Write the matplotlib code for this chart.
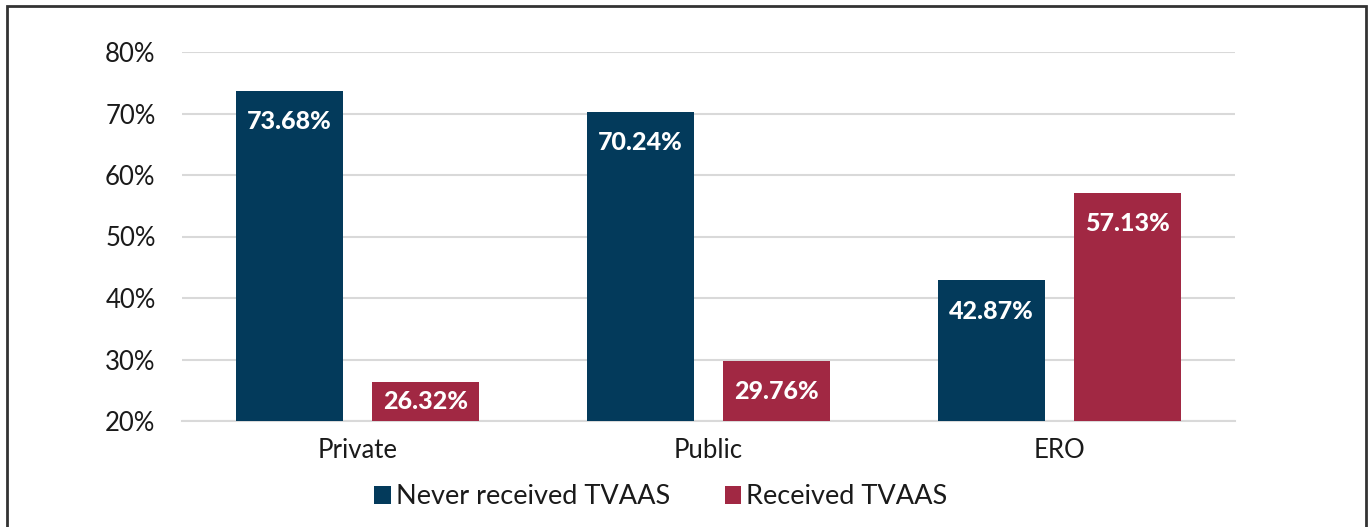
import matplotlib
matplotlib.use("Agg")
import matplotlib.pyplot as plt
import numpy as np
from matplotlib.patches import Rectangle

categories = ["Private", "Public", "ERO"]
never = [73.68, 70.24, 42.87]
received = [26.32, 29.76, 57.13]
series_names = ["Never received TVAAS", "Received TVAAS"]
yticks = [20, 30, 40, 50, 60, 70, 80]

navy = "#033A5B"
maroon = "#A12843"

plt.rcParams['font.family'] = ['Lato', 'DejaVu Sans']

fig = plt.figure(figsize=(13.7, 5.27), dpi=100)
ax = fig.add_axes([182/1370, 1-421/527, (1235-182)/1370, (421-52)/527])

x = np.arange(len(categories))
w = 0.305
off = 0.194
base = 20
b1 = ax.bar(x - off, [v - base for v in never], w, bottom=base, color=navy, label=series_names[0], zorder=3)
b2 = ax.bar(x + off, [v - base for v in received], w, bottom=base, color=maroon, label=series_names[1], zorder=3)

for bars, vals in ((b1, never), (b2, received)):
    for rect, v in zip(bars, vals):
        yc = max(v - 4.7, (base + v) / 2 + 0.3)
        ax.text(rect.get_x() + rect.get_width()/2, yc, f"{v:.2f}%",
                ha="center", va="center_baseline", color="white", fontsize=18, fontweight=900, zorder=4)

ax.set_ylim(20, 80)
ax.set_xlim(-0.5, 2.5)
ax.set_yticks(yticks)
ax.set_yticklabels([f"{t}%" for t in yticks])
ax.set_xticks(x)
ax.set_xticklabels(categories)
ax.tick_params(axis='both', length=0, labelsize=18.5, colors="#1a1a1a")
ax.tick_params(axis='y', pad=19)
ax.tick_params(axis='x', pad=12)
ax.grid(axis='y', color="#d9d9d9", linewidth=1.5, zorder=0)
for s in ["top", "right", "left"]:
    ax.spines[s].set_visible(False)
ax.spines["bottom"].set_color("#d9d9d9")
ax.spines["bottom"].set_linewidth(1.5)

leg = fig.legend(handles=[b1, b2], loc="center", bbox_to_anchor=(661/1370, 1-497/527),
                 ncol=2, frameon=False, fontsize=19.5, handlelength=0.6, handleheight=0.6,
                 handletextpad=0.2, columnspacing=2.0, labelcolor="#1a1a1a")

fig.patches.append(Rectangle((7/1370, -0.01), (1366-7)/1370, 1-6/527+0.01, transform=fig.transFigure,
                             fill=False, edgecolor="#333333", linewidth=2))

fig.savefig("out.png", dpi=100)
